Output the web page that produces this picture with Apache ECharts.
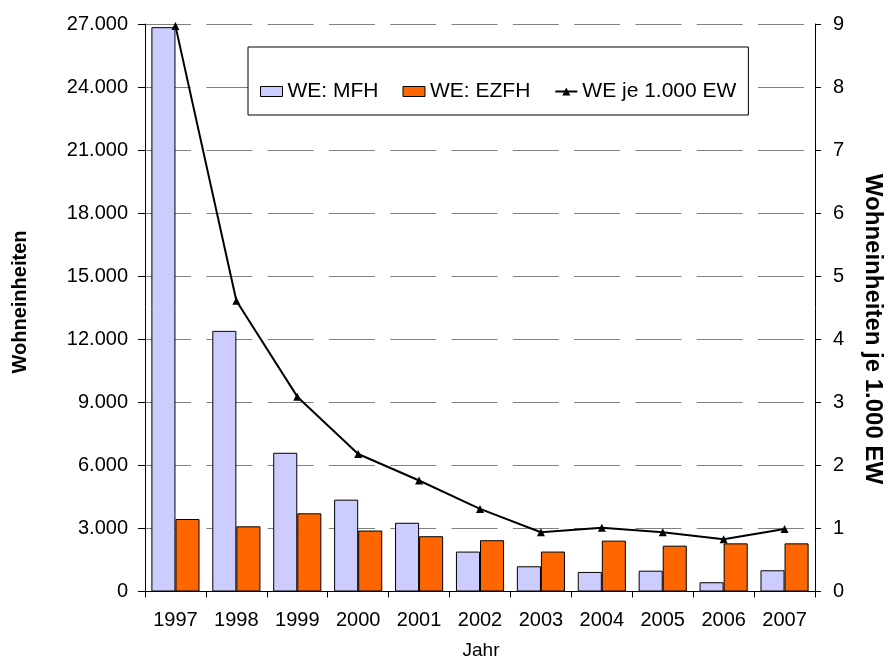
<!DOCTYPE html>
<html>
<head>
<meta charset="utf-8">
<script src="https://cdn.jsdelivr.net/npm/echarts@6/dist/echarts.min.js"></script>
<style>html,body{margin:0;padding:0;background:#fff}#c{width:889px;height:659px}</style>
</head>
<body>
<div id="c"></div>
<script>
var years = ['1997','1998','1999','2000','2001','2002','2003','2004','2005','2006','2007'];
var weMFH = [26850, 12400, 6600, 4370, 3270, 1900, 1200, 930, 990, 440, 1010];
var weEZFH = [3450, 3100, 3720, 2900, 2630, 2440, 1900, 2420, 2180, 2290, 2290];
var weJe1000EW = [8.97, 4.61, 3.09, 2.18, 1.76, 1.31, 0.94, 1.01, 0.94, 0.83, 0.99];
var leftTicks = {min: 0, max: 27000, interval: 3000};
var rightTicks = {min: 0, max: 9, interval: 1};

var FONT = '"Liberation Sans", Arial, sans-serif';
function fmt(v){ return String(v).replace(/\B(?=(\d{3})+(?!\d))/g, '.'); }

var chart = echarts.init(document.getElementById('c'), null, {renderer:'canvas'});
chart.setOption({
  animation: false,
  backgroundColor: '#fff',
  textStyle: {fontFamily: FONT, color: '#000'},
  grid: {left: 145, right: 74, top: 24, bottom: 67.5, containLabel: false},
  legend: {
    left: 248, top: 47,
    itemWidth: 22, itemHeight: 10, itemGap: 24,
    padding: [34, 12, 13, 12],
    borderColor: '#000', borderWidth: 1, backgroundColor: '#fff',
    textStyle: {fontSize: 21, color: '#000', fontFamily: FONT},
    data: [
      {name: 'WE: MFH', icon: 'rect', itemStyle: {borderColor: '#000', borderWidth: 1}},
      {name: 'WE: EZFH', icon: 'rect', itemStyle: {borderColor: '#000', borderWidth: 1}},
      {name: 'WE je 1.000 EW'}
    ]
  },
  xAxis: {
    type: 'category', data: years, boundaryGap: true,
    axisLine: {lineStyle: {color: '#000', width: 1}},
    axisTick: {show: true, alignWithLabel: false, length: 6, lineStyle: {color: '#000'}},
    axisLabel: {fontSize: 20, color: '#000', margin: 19, fontFamily: FONT},
    splitLine: {show: false}
  },
  yAxis: [{
    type: 'value', min: leftTicks.min, max: leftTicks.max, interval: leftTicks.interval,
    position: 'left',
    axisLine: {show: true, lineStyle: {color: '#000', width: 1}},
    axisTick: {show: true, length: 7, lineStyle: {color: '#000'}},
    axisLabel: {fontSize: 20, color: '#000', margin: 17, formatter: fmt, fontFamily: FONT},
    splitLine: {show: true, lineStyle: {color: '#808080', width: 1, type: [46, 15.3]}}
  }, {
    type: 'value', min: rightTicks.min, max: rightTicks.max, interval: rightTicks.interval,
    position: 'right',
    axisLine: {show: true, lineStyle: {color: '#000', width: 1}},
    axisTick: {show: true, length: 6, lineStyle: {color: '#000'}},
    axisLabel: {fontSize: 20, color: '#000', margin: 18, fontFamily: FONT},
    splitLine: {show: false}
  }],
  series: [{
    name: 'WE: MFH', type: 'bar', data: weMFH, yAxisIndex: 0,
    barGap: '0%', barCategoryGap: '21%',
    itemStyle: {color: '#CCCCFF', borderColor: '#000', borderWidth: 1}
  }, {
    name: 'WE: EZFH', type: 'bar', data: weEZFH, yAxisIndex: 0,
    barGap: '0%', barCategoryGap: '21%',
    itemStyle: {color: '#FF6600', borderColor: '#000', borderWidth: 1}
  }, {
    name: 'WE je 1.000 EW', type: 'line', data: weJe1000EW, yAxisIndex: 1,
    symbol: 'triangle', symbolSize: 8, showSymbol: true,
    lineStyle: {color: '#000', width: 2},
    itemStyle: {color: '#000'},
    z: 5
  }],
  graphic: [{
    type: 'text', x: 20, y: 302, rotation: Math.PI / 2,
    style: {text: 'Wohneinheiten', font: 'bold 20px ' + FONT, fill: '#000', textAlign: 'center', textVerticalAlign: 'middle'}
  }, {
    type: 'text', x: 873, y: 329, rotation: -Math.PI / 2,
    style: {text: 'Wohneinheiten je 1.000 EW', font: 'bold 24px ' + FONT, fill: '#000', textAlign: 'center', textVerticalAlign: 'middle'}
  }, {
    type: 'text', x: 481, y: 651,
    style: {text: 'Jahr', font: '19px ' + FONT, fill: '#000', textAlign: 'center', textVerticalAlign: 'middle'}
  }]
});
</script>
</body>
</html>
